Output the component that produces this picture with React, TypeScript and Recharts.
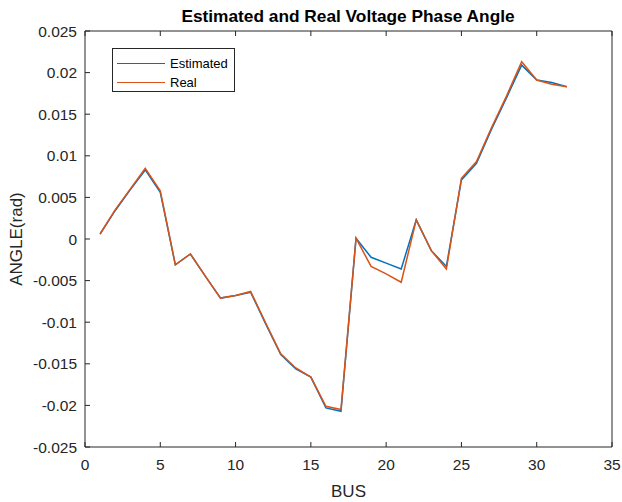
import React from 'react';
import { LineChart, Line, XAxis, YAxis, Legend, Label } from 'recharts';

// Bus numbers along the x axis
const buses: number[] = Array.from({ length: 32 }, (_, i) => i + 1);

// Voltage phase angle (rad) per bus
const estimatedAngle: number[] = [
  0.0006, 0.0034, 0.0059, 0.0083, 0.0056, -0.0031, -0.0018, -0.0045,
  -0.0071, -0.0068, -0.0064, -0.0102, -0.0139, -0.0156, -0.0166, -0.0203,
  -0.0207, 0.0001, -0.0022, -0.0029, -0.0036, 0.0023, -0.0014, -0.0033,
  0.0071, 0.0091, 0.0132, 0.017, 0.0209, 0.0191, 0.0188, 0.0183,
];
const realAngle: number[] = [
  0.0006, 0.0035, 0.006, 0.0085, 0.0058, -0.0031, -0.0018, -0.0045,
  -0.0071, -0.0068, -0.0063, -0.0101, -0.0138, -0.0155, -0.0166, -0.0201,
  -0.0205, 0.0001, -0.0033, -0.0042, -0.0052, 0.0023, -0.0014, -0.0036,
  0.0073, 0.0093, 0.0134, 0.0172, 0.0213, 0.0191, 0.0186, 0.0183,
];

const xTicks: number[] = [0, 5, 10, 15, 20, 25, 30, 35];
const yTicks: number[] = [
  -0.025, -0.02, -0.015, -0.01, -0.005, 0, 0.005, 0.01, 0.015, 0.02, 0.025,
];

const data = buses.map((b, i) => ({
  bus: b,
  estimated: estimatedAngle[i],
  real: realAngle[i],
}));

const FONT = '"Liberation Sans", Arial, Helvetica, sans-serif';
const AXIS = '#262626';
const BLUE = '#0072BD';
const ORANGE = '#D95319';
const TICK_LEN = 5;
const X_GAP = 12; // space between the x axis and its labels
const Y_GAP = 8; // space between the y axis and its labels
const TICK_FONT = 15.5;
const X_DOMAIN: [number, number] = [0, 35];
const Y_DOMAIN: [number, number] = [-0.025, 0.025];

const fmt = (v: number) => {
  const n = Number(v.toFixed(3));
  return n === 0 ? '0' : String(n);
};

// Tick renderers: an inward tick mark plus, on the labelled axes, the value text.
const BottomTick = (props: any) => {
  const { x, y, payload } = props;
  const edge = y - X_GAP;
  return (
    <g>
      <path d={`M${x},${edge}V${edge - TICK_LEN}`} stroke={AXIS} strokeWidth={1} fill="none" />
      <text x={x} y={y} dy="0.71em" textAnchor="middle" fill={AXIS} fontSize={TICK_FONT} fontFamily={FONT}>
        {String(payload.value)}
      </text>
    </g>
  );
};

const LeftTick = (props: any) => {
  const { x, y, payload } = props;
  const edge = x + Y_GAP;
  return (
    <g>
      <path d={`M${edge},${y}H${edge + TICK_LEN}`} stroke={AXIS} strokeWidth={1} fill="none" />
      <text x={x} y={y} dy="0.355em" textAnchor="end" fill={AXIS} fontSize={TICK_FONT} fontFamily={FONT}>
        {fmt(payload.value)}
      </text>
    </g>
  );
};

const TopTick = (props: any) => {
  const { x, y } = props;
  return <path d={`M${x},${y}V${y + TICK_LEN}`} stroke={AXIS} strokeWidth={1} fill="none" />;
};

const RightTick = (props: any) => {
  const { x, y } = props;
  return <path d={`M${x},${y}H${x - TICK_LEN}`} stroke={AXIS} strokeWidth={1} fill="none" />;
};

const LegendBox = () => (
  <div
    style={{
      border: '1px solid #262626',
      background: '#fff',
      width: 123,
      height: 44,
      boxSizing: 'border-box',
      fontFamily: FONT,
      fontSize: 13,
      color: '#000',
      padding: '5px 0 0 4px',
    }}
  >
    {[
      { name: 'Estimated', color: BLUE },
      { name: 'Real', color: ORANGE },
    ].map((it) => (
      <div key={it.name} style={{ display: 'flex', alignItems: 'center', height: 19 }}>
        <div style={{ width: 48, height: 0, borderTop: `1.5px solid ${it.color}`, marginRight: 5 }} />
        <span>{it.name}</span>
      </div>
    ))}
  </div>
);

export default function App() {
  return (
    <div style={{ position: 'absolute', left: 0, top: 0, width: 622, height: 502, background: '#fff' }}>
      <div
        style={{
          position: 'absolute',
          left: 0,
          top: 6,
          width: 696,
          textAlign: 'center',
          fontFamily: FONT,
          fontWeight: 'bold',
          fontSize: 17.3,
          color: '#000',
          zIndex: 2,
        }}
      >
        Estimated and Real Voltage Phase Angle
      </div>
      <LineChart
        width={622}
        height={502}
        data={data}
        margin={{ top: 31, right: 10, bottom: 0, left: 0 }}
      >
        <XAxis
          xAxisId="bottom"
          dataKey="bus"
          type="number"
          domain={X_DOMAIN}
          ticks={xTicks}
          interval={0}
          height={55}
          stroke={AXIS}
          tickLine={false}
          tickSize={0}
          tickMargin={X_GAP}
          tick={<BottomTick />}
        >
          <Label value="BUS" position="insideBottom" offset={5} style={{ fill: AXIS, fontSize: 17, fontFamily: FONT }} />
        </XAxis>
        <YAxis
          yAxisId="left"
          type="number"
          domain={Y_DOMAIN}
          ticks={yTicks}
          interval={0}
          width={85}
          stroke={AXIS}
          tickLine={false}
          tickSize={0}
          tickMargin={Y_GAP}
          tick={<LeftTick />}
        >
          <Label
            value="ANGLE(rad)"
            angle={-90}
            position="insideLeft"
            offset={16}
            style={{ fill: AXIS, fontSize: 17, fontFamily: FONT, textAnchor: 'middle' }}
          />
        </YAxis>

        {/* box edges with their inward tick marks */}
        <XAxis
          xAxisId="top"
          orientation="top"
          mirror
          dataKey="bus"
          type="number"
          domain={X_DOMAIN}
          ticks={xTicks}
          interval={0}
          stroke={AXIS}
          tickLine={false}
          tickSize={0}
          tickMargin={0}
          tick={<TopTick />}
        />
        <YAxis
          yAxisId="right"
          orientation="right"
          mirror
          type="number"
          domain={Y_DOMAIN}
          ticks={yTicks}
          interval={0}
          stroke={AXIS}
          tickLine={false}
          tickSize={0}
          tickMargin={0}
          tick={<RightTick />}
        />

        <Legend
          layout="vertical"
          align="center"
          verticalAlign="middle"
          wrapperStyle={{ position: 'absolute', left: 112, top: 48, width: 123 }}
          content={() => <LegendBox />}
        />
        <Line
          xAxisId="bottom"
          yAxisId="left"
          dataKey="estimated"
          stroke={BLUE}
          strokeWidth={1.5}
          dot={false}
          isAnimationActive={false}
        />
        <Line
          xAxisId="bottom"
          yAxisId="left"
          dataKey="real"
          stroke={ORANGE}
          strokeWidth={1.5}
          dot={false}
          isAnimationActive={false}
        />
      </LineChart>
    </div>
  );
}
